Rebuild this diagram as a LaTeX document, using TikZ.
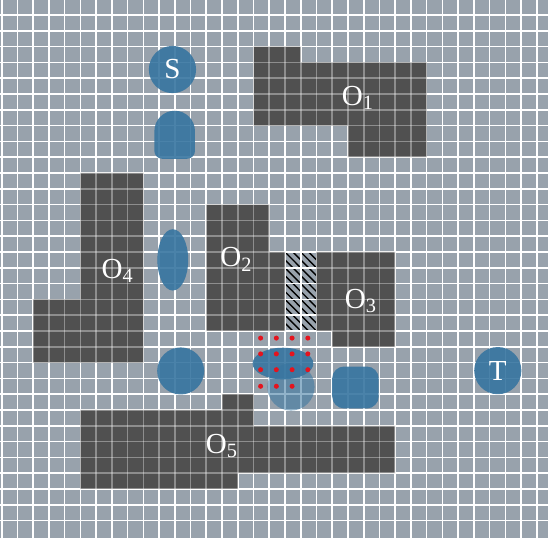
\documentclass[tikz,border=0pt]{standalone}
\usepackage{fontspec}
\setmainfont{Liberation Serif}
\usepackage{xcolor}
\usepackage{tikz}

\definecolor{floorgray}{RGB}{152,162,172}
\definecolor{wallgray}{RGB}{80,80,80}
\definecolor{blobblue}{RGB}{55,117,160}
\definecolor{dotred}{RGB}{228,20,30}

\begin{document}
\begin{tikzpicture}[x=0.4cm,y=-0.4015cm,
  wall/.style={fill=wallgray},
  blob/.style={fill=blobblue,fill opacity=0.9},
  gridline/.style={white,line width=1.2pt},
  terminal/.style={circle,fill=blobblue,fill opacity=0.9,text opacity=1,text=white,
    minimum size=1.2cm,inner sep=0pt,font=\fontsize{21}{21}\selectfont},
  lab/.style={white,inner sep=0pt,anchor=base west,font=\fontsize{21}{21}\selectfont}]

% canvas
\useasboundingbox (-0.108,0.05) rectangle (34.71,34.1);
\fill[floorgray] (-0.108,0.05) rectangle (34.71,34.1);

% hatched cells between O2 and O3
\begin{scope}
\clip (18,16) rectangle (20,21);
\foreach \k in {-5,-4.5,...,2}
  \draw[line width=1pt] (18+\k,16) -- ++(7,7);
\end{scope}

% grid
\foreach \c in {0,...,34}
  \draw[gridline] (\c,0.05) -- (\c,34.1);
\foreach \r in {1,...,33}
  \draw[gridline] (-0.108,\r) -- (34.71,\r);

% obstacles
\fill[wall] (16,3) -| (19,4) -| (27,10) -| (22,8) -| (16,3) -- cycle;
\fill[wall] (13,13) -| (17,16) -| (18,21) -| (13,13) -- cycle;
\fill[wall] (20,16) -| (25,22) -| (21,21) -| (20,16) -- cycle;
\fill[wall] (5,11) -| (9,23) -| (2,19) -| (5,11) -- cycle;
\fill[wall] (14,25) -| (16,27) -| (25,30) -| (15,31) -| (5,26) -| (14,25) -- cycle;

% grid seen through the obstacles
\foreach \c in {0,...,34}
  \draw[gridline,opacity=0.35] (\c,0.05) -- (\c,34.1);
\foreach \r in {1,...,33}
  \draw[gridline,opacity=0.35] (-0.108,\r) -- (34.71,\r);

% blobs
\fill[blob] (9.7,8.35) arc[start angle=180,end angle=360,radius=1.29]
  -- (12.28,9.6) arc[start angle=0,end angle=90,radius=0.5]
  -- (10.2,10.1) arc[start angle=90,end angle=180,radius=0.5] -- cycle;
\fill[blob] (10.87,16.5) ellipse [x radius=0.98,y radius=1.94];
\fill[blob] (11.37,23.53) circle [radius=1.49];
\fill[blob,fill opacity=0.55] (18.38,24.54) circle [radius=1.5];
\fill[blob] (17.87,23.06) ellipse [x radius=1.93,y radius=1.0];
\fill[blob,rounded corners=0.3cm] (21,23.25) rectangle (23.95,25.9);

% red dots
\foreach \i in {0,...,3}
  \foreach \j in {0,1,2}
    \fill[dotred] (16.45+\i,21.45+\j) circle [radius=0.16];
\foreach \i in {0,1,2}
  \fill[dotred] (16.45+\i,24.5) circle [radius=0.16];

% start and goal
\node (S) [terminal] at (10.85,4.45) {S};
\node (T) [terminal] at (31.52,23.51) {T};

% obstacle labels
\node (O1) [lab] at (21.6,6.7) {O\textsubscript{1}};
\node (O2) [lab] at (13.87,16.95) {O\textsubscript{2}};
\node (O3) [lab] at (21.79,19.58) {O\textsubscript{3}};
\node (O4) [lab] at (6.33,17.65) {O\textsubscript{4}};
\node (O5) [lab] at (12.96,28.75) {O\textsubscript{5}};

\end{tikzpicture}
\end{document}
